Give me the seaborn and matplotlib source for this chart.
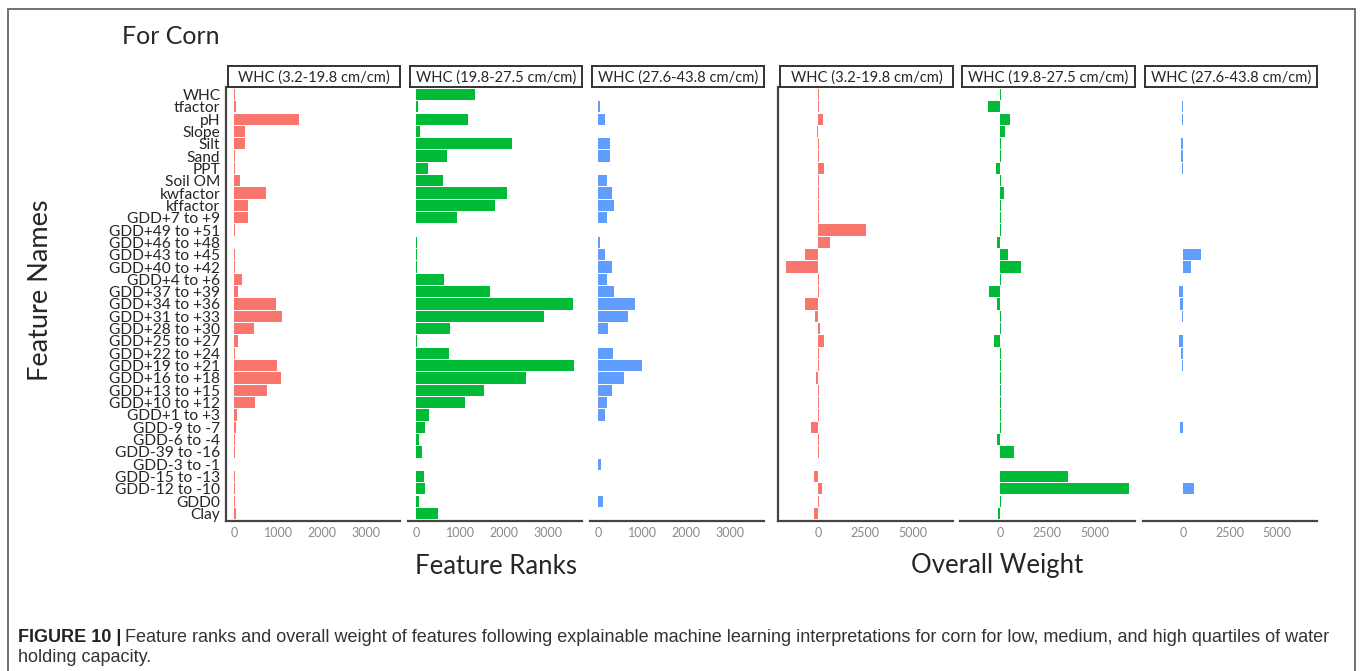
import matplotlib
matplotlib.use('Agg')
import matplotlib.pyplot as plt
import seaborn as sns
from matplotlib.patches import Rectangle

# ---------- data ----------
features = ['WHC', 'tfactor', 'pH', 'Slope', 'Silt', 'Sand', 'PPT', 'Soil OM',
            'kwfactor', 'kffactor', 'GDD+7 to +9', 'GDD+49 to +51', 'GDD+46 to +48',
            'GDD+43 to +45', 'GDD+40 to +42', 'GDD+4 to +6', 'GDD+37 to +39',
            'GDD+34 to +36', 'GDD+31 to +33', 'GDD+28 to +30', 'GDD+25 to +27',
            'GDD+22 to +24', 'GDD+19 to +21', 'GDD+16 to +18', 'GDD+13 to +15',
            'GDD+10 to +12', 'GDD+1 to +3', 'GDD-9 to -7', 'GDD-6 to -4',
            'GDD-39 to -16', 'GDD-3 to -1', 'GDD-15 to -13', 'GDD-12 to -10',
            'GDD0', 'Clay']

whc_groups = ['WHC (3.2-19.8 cm/cm)', 'WHC (19.8-27.5 cm/cm)', 'WHC (27.6-43.8 cm/cm)']

rank_low = [30, 45, 1480, 262, 262, 30, 30, 135, 735, 324, 324, 25, 0, 15, 15, 187, 87,
            947, 1084, 452, 96, 20, 970, 1061, 758, 475, 73, 50, 20, 20, 0, 15, 15, 15, 55]
rank_mid = [1330, 40, 1176, 90, 2180, 712, 270, 614, 2060, 1783, 921, 5, 30, 30, 30, 637,
            1685, 3550, 2900, 764, 15, 742, 3580, 2487, 1535, 1108, 300, 202, 75, 128, 0,
            180, 202, 75, 510]
rank_high = [10, 55, 160, 0, 270, 270, 0, 215, 330, 370, 215, 0, 50, 160, 315, 200, 370,
             830, 690, 230, 5, 340, 990, 590, 330, 210, 170, 0, 5, 0, 80, 0, 3, 120, 0]

weight_low = [40, 50, 270, -50, 30, 30, 320, 30, 30, 30, 30, 2550, 660, -710, -1690, 30,
              60, -710, -140, 90, 320, 30, 30, -90, 30, 30, 30, -360, 30, 30, 0, -215,
              215, 30, -215]
weight_mid = [40, -655, 530, 265, 40, 40, -210, 40, 195, 40, 40, 30, -175, 405, 1130, 40,
              -600, -175, 40, 40, -300, 40, 40, 40, 40, 40, 40, 40, -175, 760, 0, 3600,
              6800, 40, -120]
weight_high = [30, -30, -40, 30, -100, -100, -40, 20, 20, 20, 20, 20, 0, 960, 460, 0, -190,
               -150, -20, 0, -190, -100, -20, 0, 20, 20, 20, -150, 20, 20, 0, 0, 590, 0, 0]

colors = ['#F8766D', '#00BA38', '#619CFF']

W, H = 1363, 671


def box(x0, y0, x1, y1):
    # pixel box (top-left origin) -> figure fraction
    return [x0 / W, 1 - y1 / H, (x1 - x0) / W, (y1 - y0) / H]


sns.set_style('white')
plt.rcParams['font.family'] = ['Lato', 'DejaVu Sans']

fig = plt.figure(figsize=(W / 100, H / 100), dpi=100)

# outer frame
fig.patches.append(Rectangle((8 / W, -0.01), (1355 - 8) / W, 1 - 9 / H + 0.01,
                             transform=fig.transFigure, fill=False,
                             edgecolor='#666666', linewidth=1.3))

panels = [
    (226, 400, rank_low, 0, 'rank'),
    (408, 582, rank_mid, 1, 'rank'),
    (590, 764, rank_high, 2, 'rank'),
    (778, 953, weight_low, 0, 'weight'),
    (960, 1135, weight_mid, 1, 'weight'),
    (1143, 1317, weight_high, 2, 'weight'),
]

top, bottom = 87, 521
for i, (x0, x1, vals, g, kind) in enumerate(panels):
    ax = fig.add_axes(box(x0, top, x1, bottom))
    sns.barplot(x=vals, y=features, ax=ax, color=colors[g], width=0.9,
                saturation=1, linewidth=0)
    ax.set_ylim(34.6, -0.6)
    if kind == 'rank':
        ax.set_xlim(-179, 3759)
        ax.set_xticks([0, 1000, 2000, 3000])
    else:
        ax.set_xlim(-2115, 7140)
        ax.set_xticks([0, 2500, 5000])
    ax.set_xlabel('')
    ax.set_ylabel('')
    for s in ['top', 'right']:
        ax.spines[s].set_visible(False)
    ax.spines['bottom'].set_color('#444444')
    ax.spines['bottom'].set_linewidth(1.6)
    ax.tick_params(axis='x', length=0, labelsize=9, labelcolor='#8a8a8a', pad=4)
    if i == 0:
        ax.spines['left'].set_color('#444444')
        ax.spines['left'].set_linewidth(1.6)
        ax.tick_params(axis='y', length=3, width=1, color='#444444', labelsize=11.2,
                       pad=1)
    elif i == 3:
        ax.spines['left'].set_color('#444444')
        ax.spines['left'].set_linewidth(1.6)
        ax.tick_params(axis='y', length=3, width=1, color='#444444', labelleft=False)
    else:
        ax.spines['left'].set_visible(False)
        ax.tick_params(axis='y', length=0, labelleft=False)

    # facet strip
    st = fig.add_axes(box(x0 + 2, 66, x1, 87))
    st.set_xticks([])
    st.set_yticks([])
    for s in st.spines.values():
        s.set_color('#333333')
        s.set_linewidth(1.4)
    st.text(0.5, 0.45, whc_groups[g], ha='center', va='center', fontsize=10.6,
            transform=st.transAxes)

# titles
fig.text(122 / W, 1 - 37 / H, 'For Corn', fontsize=18, ha='left', va='center')
fig.text(41 / W, 1 - 290 / H, 'Feature Names', fontsize=19.5, rotation=90,
         ha='center', va='center')
fig.text(496 / W, 1 - 566 / H, 'Feature Ranks', fontsize=18.5, ha='center', va='center')
fig.text(997 / W, 1 - 566 / H, 'Overall Weight', fontsize=18.5, ha='center', va='center')

# caption
cap_font = ['Liberation Sans', 'DejaVu Sans']
cap_size = 13
renderer = fig.canvas.get_renderer()
t1 = fig.text(18 / W, 1 - 637 / H, 'FIGURE 10 |', fontsize=cap_size, fontweight='bold',
              family=cap_font, color='#222222', ha='left', va='center')
bb = t1.get_window_extent(renderer)
fig.text((bb.x1 + 4) / W, 1 - 637 / H,
         'Feature ranks and overall weight of features following explainable machine '
         'learning interpretations for corn for low, medium, and high quartiles of water',
         fontsize=cap_size, family=cap_font, color='#333333', ha='left', va='center')
fig.text(18 / W, 1 - 657 / H, 'holding capacity.', fontsize=cap_size, family=cap_font,
         color='#333333', ha='left', va='center')

plt.savefig('out.png', dpi=100)
